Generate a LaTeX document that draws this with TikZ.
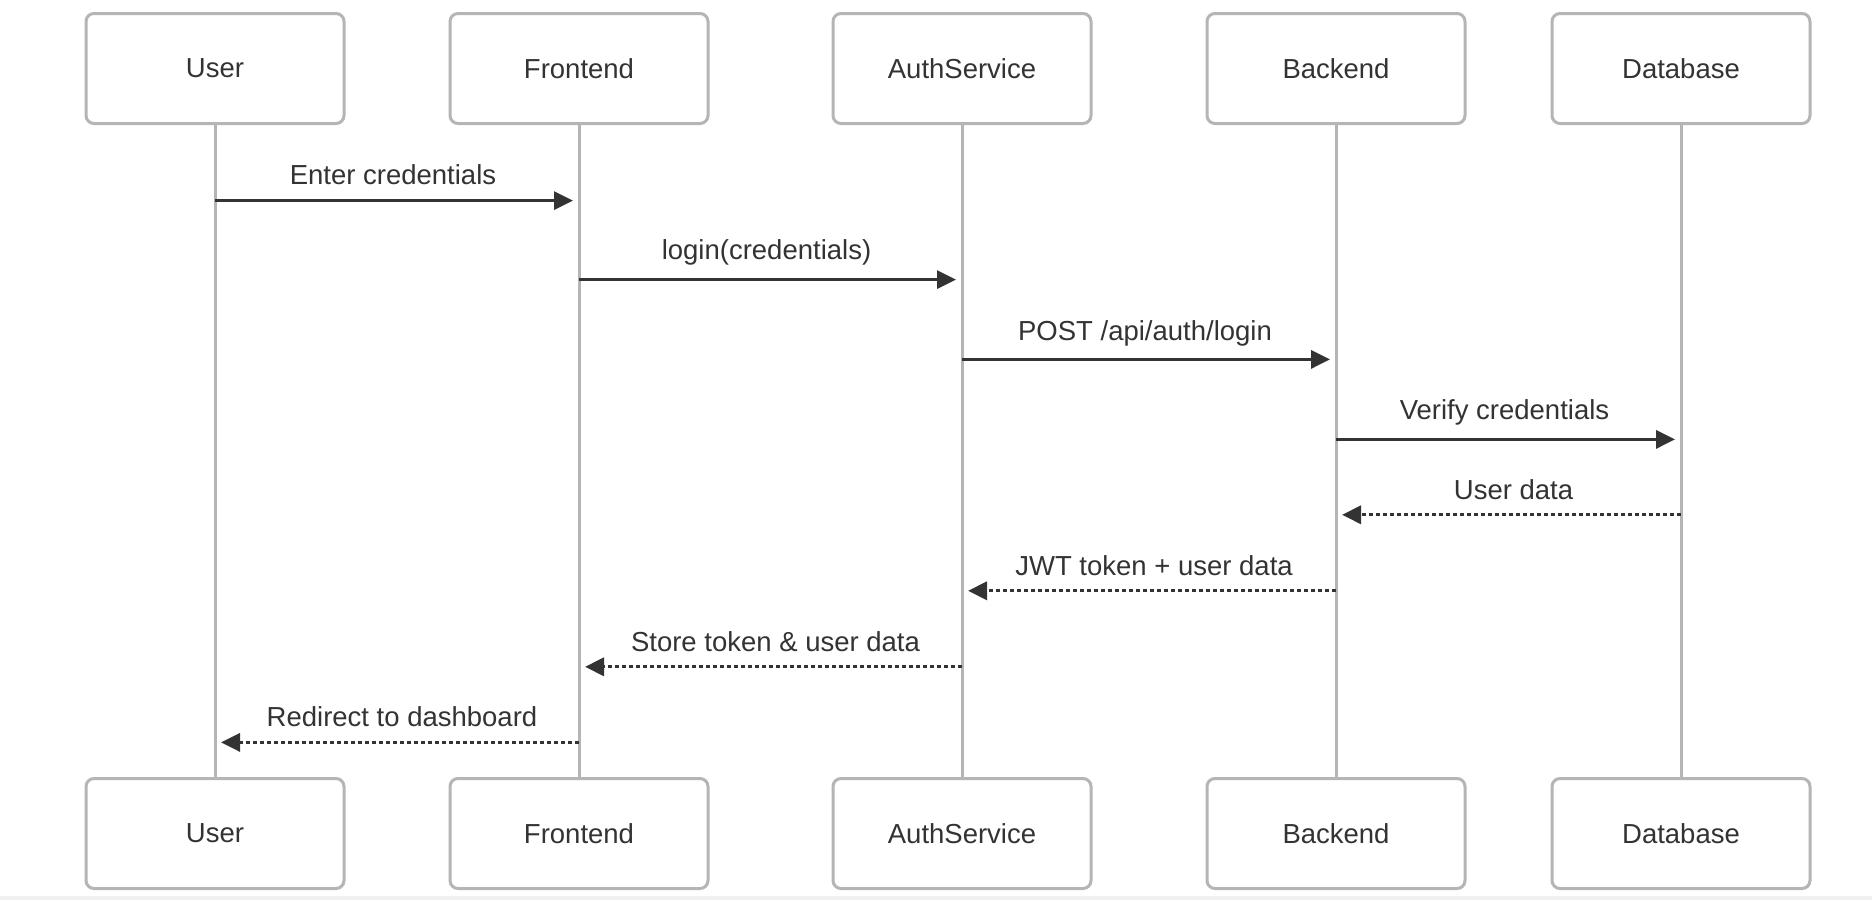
\documentclass[tikz,border=0pt]{standalone}
\usepackage{fontspec}
\setmainfont{Liberation Sans}
\usetikzlibrary{arrows.meta}

\definecolor{lifegray}{HTML}{B5B5B5}
\definecolor{msgdark}{HTML}{333333}
\definecolor{bandgray}{HTML}{F0F0F0}

\begin{document}
\begin{tikzpicture}[x=1pt, y=-1pt,
		actor/.style={draw=lifegray, line width=3pt, rounded corners=8pt, fill=white,
			minimum width=258pt, minimum height=110pt, inner sep=0pt, text=msgdark,
			font=\fontsize{27.5}{33}\selectfont},
		lifeline/.style={draw=lifegray, line width=3pt},
		msg/.style={draw=msgdark, line width=3.3pt, -{Triangle[length=19pt, width=18pt]}, shorten >=6pt},
		reply/.style={msg, dash pattern=on 4pt off 3pt},
		msglabel/.style={anchor=base, yshift=#1, text=msgdark, font=\fontsize{27.5}{33}\selectfont},
		msglabel/.default=15.7pt]
				% Фон и полоса снизу
				\fill[white] (0,0) rectangle (1872,900);
				\fill[bandgray] (0,896) rectangle (1872,900);
				
				% Участники сверху
				\node[actor] (userTop) at (215,68.5) {User};
				\node[actor] (frontTop) at (579,68.5) {Frontend};
				\node[actor] (authTop) at (962,68.5) {AuthService};
				\node[actor] (backTop) at (1336,68.5) {Backend};
				\node[actor] (dbTop) at (1681,68.5) {Database};
				
				% Участники снизу
				\node[actor] (userBot) at (215,833.5) {User};
				\node[actor] (frontBot) at (579,833.5) {Frontend};
				\node[actor] (authBot) at (962,833.5) {AuthService};
				\node[actor] (backBot) at (1336,833.5) {Backend};
				\node[actor] (dbBot) at (1681,833.5) {Database};
				
				% Линии жизни
				\draw[lifeline] (userTop) -- (userBot);
				\draw[lifeline] (frontTop) -- (frontBot);
				\draw[lifeline] (authTop) -- (authBot);
				\draw[lifeline] (backTop) -- (backBot);
				\draw[lifeline] (dbTop) -- (dbBot);
				
				% Уровни сообщений
				\coordinate (r1) at (0,200.6);
				\coordinate (r2) at (0,279.6);
				\coordinate (r3) at (0,359.4);
				\coordinate (r4) at (0,439.4);
				\coordinate (r5) at (0,514.8);
				\coordinate (r6) at (0,590.8);
				\coordinate (r7) at (0,666.8);
				\coordinate (r8) at (0,742.4);
				
				% Запросы
				\draw[msg] (userTop |- r1) -- (frontTop |- r1) node[msglabel, midway, xshift=-4pt] (m1) {Enter credentials};
				\draw[msg] (frontTop |- r2) -- (authTop |- r2) node[msglabel=19.8pt, midway, xshift=-4pt] (m2) {login(credentials)};
				\draw[msg] (authTop |- r3) -- (backTop |- r3) node[msglabel=18.7pt, midway, xshift=-4pt] (m3) {POST /api/auth/login};
				\draw[msg] (backTop |- r4) -- (dbTop |- r4) node[msglabel=19.5pt, midway, xshift=-4pt] (m4) {Verify credentials};
				
				% Ответы
				\draw[reply] (dbTop |- r5) -- (backTop |- r5) node[msglabel, midway, xshift=5pt] (m5) {User data};
				\draw[reply] (backTop |- r6) -- (authTop |- r6) node[msglabel, midway, xshift=5pt] (m6) {JWT token + user data};
				\draw[reply] (authTop |- r7) -- (frontTop |- r7) node[msglabel, midway, xshift=5pt] (m7) {Store token \& user data};
				\draw[reply] (frontTop |- r8) -- (userTop |- r8) node[msglabel, midway, xshift=5pt] (m8) {Redirect to dashboard};
			\end{tikzpicture}
\end{document}
